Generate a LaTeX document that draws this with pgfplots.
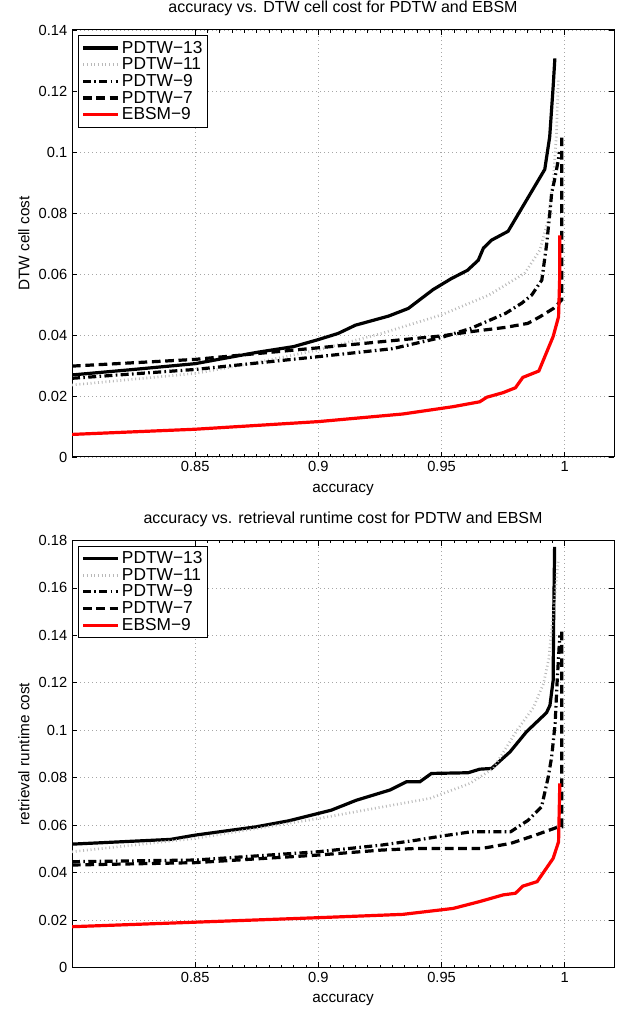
\documentclass[border=0pt]{standalone}
\usepackage{fontspec}
\setmainfont{Liberation Sans}
\usepackage{pgfplots}
\pgfplotsset{compat=1.18}

% MATLAB-like look, 1px = 0.75pt
\pgfplotsset{
  mlab/.style={
    width=406.5pt, height=320.25pt, scale only axis,
    xmin=0.8, xmax=1.02,
    xtick={0.85,0.9,0.95,1},
    minor x tick num=9,
    tick align=inside, tick pos=both,
    major tick length=4pt, minor tick length=2pt,
    axis line style={line width=0.75pt},
    every tick/.style={black, line width=0.5pt},
    grid=major,
    grid style={gray!70, line width=0.5pt, dash pattern=on 0.6pt off 2.4pt},
    scaled ticks=false,
    /pgf/number format/assume math mode=true,
    xticklabel style={font=\fontsize{11}{12}\selectfont, /pgf/number format/fixed, /pgf/number format/precision=2},
    yticklabel style={font=\fontsize{11}{12}\selectfont, /pgf/number format/fixed, /pgf/number format/precision=2},
    label style={font=\fontsize{11.5}{13}\selectfont},
    xlabel style={yshift=-2pt},
    title style={font=\fontsize{12}{13}\selectfont, yshift=1pt},
    legend style={at={(axis description cs:0.0116,0.988)}, anchor=north west,
      draw=black, line width=0.75pt, fill=white,
      font=\fontsize{13}{14}\selectfont, row sep=-2pt, inner sep=2pt,
      cells={anchor=west}},
    legend image code/.code={\draw[#1] (0pt,0pt) -- (26pt,0pt);},
  },
  p13/.style={black, line width=2.4pt},
  p11/.style={gray!55, line width=2pt, dash pattern=on 0.7pt off 2.1pt},
  p9/.style={black, line width=2.4pt, dash pattern=on 6pt off 2.5pt on 1.2pt off 2.5pt},
  p7/.style={black, line width=2.4pt, dash pattern=on 6.5pt off 3.5pt},
  eb/.style={red, line width=2.4pt},
}

\begin{document}
\begin{tikzpicture}
\path[use as bounding box] (0,0) rectangle (468pt,757.5pt);

\begin{axis}[mlab, at={(54pt,414.75pt)}, anchor=south west,
  ymin=0, ymax=0.14, ytick={0,0.02,...,0.14},
  title={accuracy vs. DTW cell cost for PDTW and EBSM},
  xlabel={accuracy}, ylabel={DTW cell cost}]
\addplot[p13] coordinates {(0.8,0.0269) (0.825,0.0287) (0.85,0.0306) (0.875,0.0343) (0.89,0.0362) (0.9,0.0385) (0.908,0.0405) (0.915,0.0432) (0.9285,0.0462) (0.9365,0.0487) (0.9466,0.0549) (0.954,0.0585) (0.9605,0.0612) (0.9649,0.0645) (0.967,0.0685) (0.9703,0.0711) (0.977,0.074) (0.9919,0.0943) (0.9939,0.105) (0.9953,0.1214) (0.996,0.1307)};
\addlegendentry{PDTW−13}
\addplot[p11] coordinates {(0.8,0.0236) (0.85,0.0274) (0.875,0.031) (0.9,0.0351) (0.9256,0.0405) (0.95,0.0466) (0.9692,0.0531) (0.9837,0.0602) (0.9899,0.0678) (0.9932,0.0776) (0.9953,0.0908) (0.9966,0.105) (0.9974,0.1242)};
\addlegendentry{PDTW−11}
\addplot[p9] coordinates {(0.8,0.0258) (0.85,0.0287) (0.9,0.0329) (0.93,0.0355) (0.95,0.0392) (0.962,0.0422) (0.976,0.0471) (0.9825,0.0504) (0.9866,0.0531) (0.9907,0.058) (0.9927,0.07) (0.994,0.0804) (0.9947,0.0865) (0.996,0.0914) (0.9974,0.0974) (0.9978,0.1)};
\addlegendentry{PDTW−9}
\addplot[p7] coordinates {(0.8,0.0298) (0.85,0.032) (0.9,0.0358) (0.9256,0.0378) (0.95,0.0397) (0.962,0.0411) (0.976,0.0425) (0.985,0.0438) (0.99,0.046) (0.9954,0.0487) (0.9988,0.0515) (0.9988,0.105)};
\addlegendentry{PDTW−7}
\addplot[eb] coordinates {(0.8,0.0074) (0.85,0.0091) (0.9,0.0116) (0.9343,0.0141) (0.9547,0.0165) (0.9655,0.0181) (0.9684,0.0196) (0.975,0.0211) (0.98,0.0227) (0.983,0.0261) (0.9895,0.0282) (0.9953,0.0395) (0.9975,0.046) (0.998,0.0602) (0.998,0.0727)};
\addlegendentry{EBSM−9}
\end{axis}

\begin{axis}[mlab, at={(54pt,31.875pt)}, anchor=south west,
  ymin=0, ymax=0.18, ytick={0,0.02,...,0.18},
  title={accuracy vs. retrieval runtime cost for PDTW and EBSM},
  xlabel={accuracy}, ylabel={retrieval runtime cost}]
\addplot[p13] coordinates {(0.8,0.052) (0.84,0.054) (0.85,0.0558) (0.8747,0.0593) (0.8878,0.0618) (0.9052,0.0663) (0.9154,0.0705) (0.929,0.0748) (0.9358,0.0783) (0.9412,0.0783) (0.9459,0.0818) (0.9608,0.0821) (0.9655,0.0836) (0.9703,0.0839) (0.9778,0.0909) (0.9845,0.0994) (0.9926,0.1074) (0.994,0.1105) (0.9953,0.121) (0.9955,0.1464) (0.9959,0.1773)};
\addlegendentry{PDTW−13}
\addplot[p11] coordinates {(0.8,0.0488) (0.85,0.0544) (0.9,0.0628) (0.925,0.0675) (0.9453,0.0713) (0.9615,0.0776) (0.971,0.0839) (0.9806,0.1) (0.9873,0.1096) (0.9914,0.1197) (0.9935,0.13) (0.9974,0.1716)};
\addlegendentry{PDTW−11}
\addplot[p9] coordinates {(0.8,0.0446) (0.85,0.0453) (0.9,0.0488) (0.9256,0.0516) (0.94,0.0537) (0.95,0.0554) (0.962,0.0572) (0.978,0.0572) (0.9852,0.0621) (0.9906,0.0677) (0.9933,0.0803) (0.9947,0.0888) (0.9961,0.1028) (0.9968,0.1182) (0.998,0.14)};
\addlegendentry{PDTW−9}
\addplot[p7] coordinates {(0.8,0.0432) (0.85,0.0442) (0.9,0.0474) (0.9256,0.0495) (0.94,0.0502) (0.9664,0.0502) (0.978,0.0523) (0.9881,0.0558) (0.9975,0.0593) (0.9988,0.0593) (0.9988,0.143)};
\addlegendentry{PDTW−7}
\addplot[eb] coordinates {(0.8,0.0172) (0.85,0.0191) (0.9,0.021) (0.9343,0.0224) (0.9547,0.0249) (0.9655,0.0278) (0.975,0.0306) (0.98,0.0313) (0.983,0.0343) (0.9888,0.0362) (0.9953,0.046) (0.9975,0.053) (0.998,0.0776)};
\addlegendentry{EBSM−9}
\end{axis}
\end{tikzpicture}
\end{document}
